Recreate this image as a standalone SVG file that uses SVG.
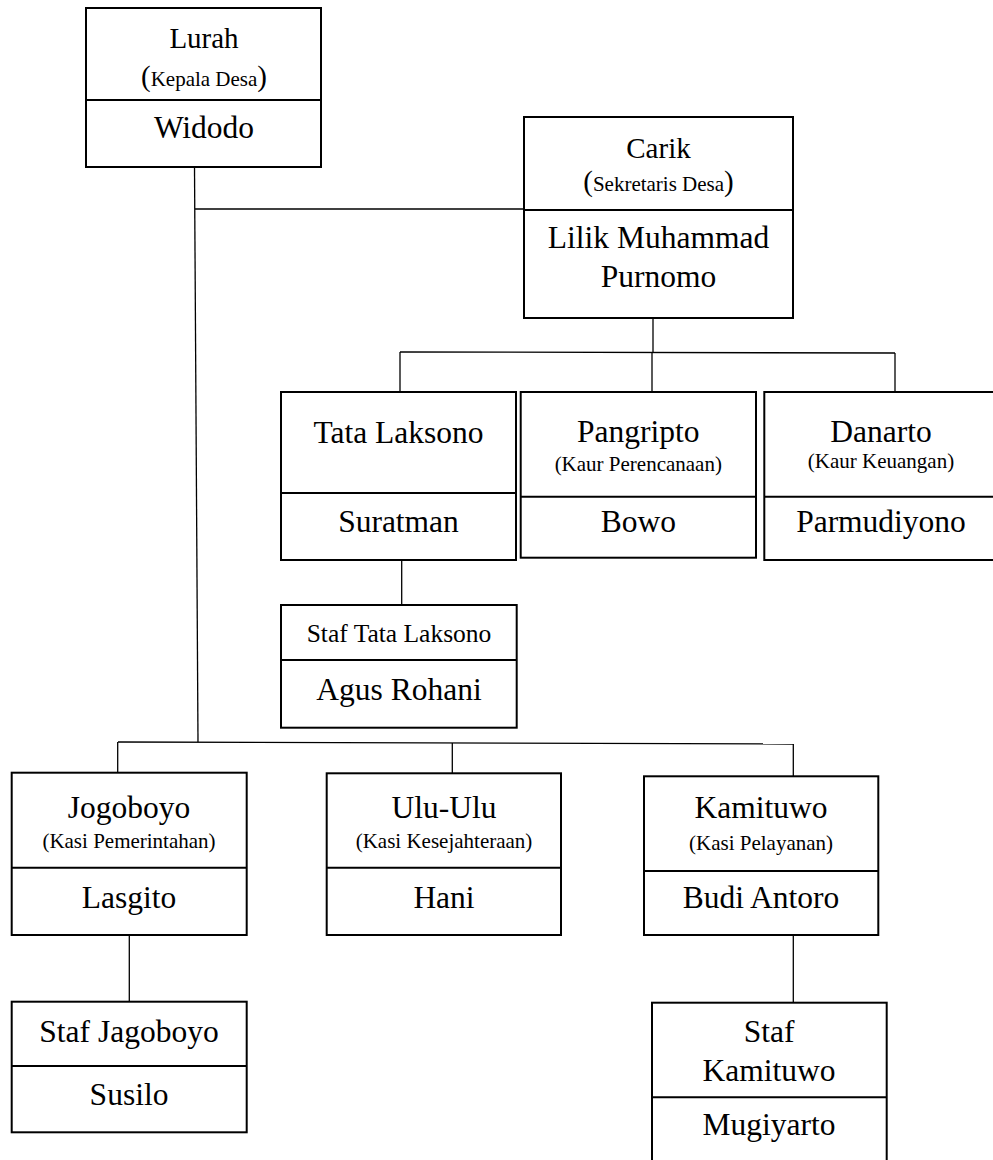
<svg xmlns="http://www.w3.org/2000/svg" width="993" height="1160" viewBox="0 0 993 1160">
<style>
.box{fill:#fff;stroke:#000;stroke-width:2}
.div{stroke:#000;stroke-width:2}
.con{stroke:#000;stroke-width:1.3;fill:none}
text{font-family:"Liberation Serif","Times New Roman",serif;fill:#000;text-anchor:middle}
.t{font-size:31.5px}
.tl{font-size:29px}
.s{font-size:21px}
.sm{font-size:25.5px}
.p{font-size:29px}
</style>
<rect width="993" height="1160" fill="#fff"/>
<g id="connectors">
<path class="con" d="M194.5,167 L198,742"/>
<path class="con" d="M195,209 L524,209"/>
<path class="con" d="M653,318 L653,352"/>
<path class="con" d="M400,352 L895,353"/>
<path class="con" d="M400,352 L400,392"/>
<path class="con" d="M652,352 L652,392"/>
<path class="con" d="M895,353 L895,392"/>
<path class="con" d="M401.7,560 L401.7,605"/>
<path class="con" d="M118,742 L793.3,744"/>
<path class="con" d="M117.7,742 L117.7,773"/>
<path class="con" d="M452.3,743 L452.3,773"/>
<path class="con" d="M793.3,744 L793.3,776"/>
<path class="con" d="M129.3,935 L129.3,1002"/>
<path class="con" d="M793.3,935 L793.3,1003"/>
</g>
<g id="lurah">
<rect class="box" x="86" y="8" width="235" height="159"/>
<line class="div" x1="86" y1="100" x2="321" y2="100"/>
<text class="tl" x="204" y="48">Lurah</text>
<text class="s" x="204" y="86"><tspan class="p">(</tspan>Kepala Desa<tspan class="p">)</tspan></text>
<text class="t" x="204" y="138">Widodo</text>
</g>
<g id="carik">
<rect class="box" x="524" y="117" width="269" height="201"/>
<line class="div" x1="524" y1="210" x2="793" y2="210"/>
<text class="tl" x="658.5" y="158">Carik</text>
<text class="s" x="658.5" y="191"><tspan class="p">(</tspan>Sekretaris Desa<tspan class="p">)</tspan></text>
<text class="t" x="658.5" y="248">Lilik Muhammad</text>
<text class="t" x="658.5" y="287">Purnomo</text>
</g>
<g id="tata-laksono">
<rect class="box" x="281" y="392" width="235" height="168"/>
<line class="div" x1="281" y1="493" x2="516" y2="493"/>
<text class="t" x="398.5" y="443">Tata Laksono</text>
<text class="t" x="398.5" y="531.7">Suratman</text>
</g>
<g id="pangripto">
<rect class="box" x="520.7" y="392" width="235.3" height="165.7"/>
<line class="div" x1="520.7" y1="496.7" x2="756" y2="496.7"/>
<text class="t" x="638.3" y="441.7">Pangripto</text>
<text class="s" x="638.3" y="470.7">(Kaur Perencanaan)</text>
<text class="t" x="638.3" y="531.7">Bowo</text>
</g>
<g id="danarto">
<rect class="box" x="764.3" y="392" width="240" height="168"/>
<line class="div" x1="764.3" y1="496.7" x2="1004" y2="496.7"/>
<text class="t" x="881" y="441.7">Danarto</text>
<text class="s" x="881" y="468">(Kaur Keuangan)</text>
<text class="t" x="881" y="531.7">Parmudiyono</text>
</g>
<g id="staf-tata-laksono">
<rect class="box" x="281" y="605" width="235.7" height="122.7"/>
<line class="div" x1="281" y1="660" x2="516.7" y2="660"/>
<text class="sm" x="399" y="641.7">Staf Tata Laksono</text>
<text class="t" x="399" y="700">Agus Rohani</text>
</g>
<g id="jogoboyo">
<rect class="box" x="11.7" y="772.7" width="235" height="162.3"/>
<line class="div" x1="11.7" y1="867.7" x2="246.7" y2="867.7"/>
<text class="t" x="129" y="818.3">Jogoboyo</text>
<text class="s" x="129" y="848.3">(Kasi Pemerintahan)</text>
<text class="t" x="129" y="907.7">Lasgito</text>
</g>
<g id="ulu-ulu">
<rect class="box" x="326.7" y="773.3" width="234.3" height="161.7"/>
<line class="div" x1="326.7" y1="867.7" x2="561" y2="867.7"/>
<text class="t" x="444" y="818.3">Ulu-Ulu</text>
<text class="s" x="444" y="848.3">(Kasi Kesejahteraan)</text>
<text class="t" x="444" y="907.7">Hani</text>
</g>
<g id="kamituwo">
<rect class="box" x="644" y="776.3" width="234.3" height="158.7"/>
<line class="div" x1="644" y1="871" x2="878.3" y2="871"/>
<text class="t" x="761" y="818.3">Kamituwo</text>
<text class="s" x="761" y="850">(Kasi Pelayanan)</text>
<text class="t" x="761" y="907.7">Budi Antoro</text>
</g>
<g id="staf-jagoboyo">
<rect class="box" x="11.7" y="1001.7" width="235" height="130.6"/>
<line class="div" x1="11.7" y1="1066" x2="246.7" y2="1066"/>
<text class="t" x="129" y="1041.7">Staf Jagoboyo</text>
<text class="t" x="129" y="1105">Susilo</text>
</g>
<g id="staf-kamituwo">
<rect class="box" x="652" y="1002.7" width="234.7" height="170"/>
<line class="div" x1="652" y1="1097.3" x2="886.7" y2="1097.3"/>
<text class="t" x="769" y="1041.7">Staf</text>
<text class="t" x="769" y="1081">Kamituwo</text>
<text class="t" x="769" y="1135">Mugiyarto</text>
</g>
</svg>
